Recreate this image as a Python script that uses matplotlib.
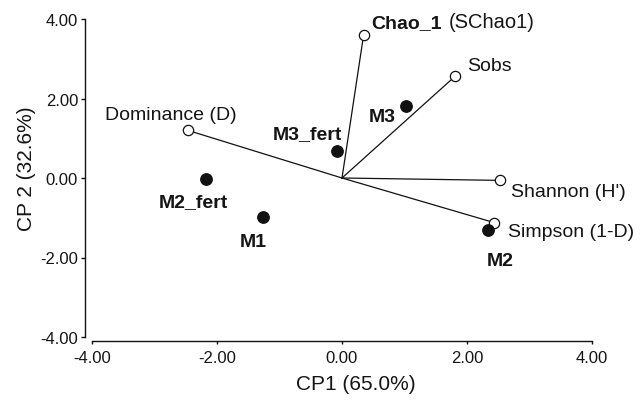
import matplotlib
matplotlib.use("Agg")
import matplotlib.pyplot as plt

plt.rcParams['font.family'] = ['Liberation Sans', 'DejaVu Sans']
plt.rcParams['axes.unicode_minus'] = False

# Sample scores (filled points)
samples = ["M3", "M3_fert", "M2_fert", "M1", "M2"]
sample_x = [1.03, -0.085, -2.18, -1.27, 2.34]
sample_y = [1.82, 0.69, -0.03, -0.99, -1.30]

# Variable loadings (vectors, open circles)
variables = ["Sobs", "Dominance (D)", "Shannon (H')", "Simpson (1-D)"]
var_x = [1.81, -2.47, 2.53, 2.43]
var_y = [2.56, 1.20, -0.06, -1.12]
chao_name_bold = "Chao_1"
chao_name_rest = "(SChao1)"
chao_x = 0.347
chao_y = 3.61

ticks = [-4.0, -2.0, 0.0, 2.0, 4.0]
xlabel = "CP1 (65.0%)"
ylabel = "CP 2 (32.6%)"

# label layout (offsets in points, alignment)
sample_label_style = {
    "M3": ((-7.6, -10.8), "right"),
    "M3_fert": ((-21.0, 9.1), "center"),
    "M2_fert": ((-9.1, -19.4), "center"),
    "M1": ((-6.8, -20.4), "center"),
    "M2": ((8.6, -25.7), "center"),
}
var_label_style = {
    "Sobs": ((8.6, 4.5), "left"),
    "Dominance (D)": ((-12.2, 8.4), "center"),
    "Shannon (H')": ((7.9, -11.5), "left"),
    "Simpson (1-D)": ((10.3, -9.6), "left"),
}

txt_color = "#151515"
fig = plt.figure(figsize=(6.44, 4.02), dpi=100)
ax = fig.add_axes([92/644, 64/402, 500/644, 318/402])
ax.set_xlim(-4, 4)
ax.set_ylim(-4, 4)

# vectors
all_vx = var_x + [chao_x]
all_vy = var_y + [chao_y]
for vx, vy in zip(all_vx, all_vy):
    ax.plot([0, vx], [0, vy], color="#111111", lw=0.9, zorder=2)
ax.plot(all_vx, all_vy, linestyle="none", marker="o", markersize=7.4,
        markerfacecolor="white", markeredgecolor="#111111", markeredgewidth=0.9, zorder=3)

# samples
ax.plot(sample_x, sample_y, linestyle="none", marker="o", markersize=8.2,
        markerfacecolor="#111111", markeredgecolor="#111111", zorder=4)

for name, sx, sy in zip(samples, sample_x, sample_y):
    off, ha = sample_label_style[name]
    ax.annotate(name, (sx, sy), xytext=off, textcoords="offset points",
                ha=ha, va="baseline", fontsize=14, fontweight="bold", color=txt_color)

for name, vx, vy in zip(variables, var_x, var_y):
    off, ha = var_label_style[name]
    ax.annotate(name, (vx, vy), xytext=off, textcoords="offset points",
                ha=ha, va="baseline", fontsize=14, color=txt_color)

t1 = ax.annotate(chao_name_bold, (chao_x, chao_y), xytext=(5.8, 2.4),
                 textcoords="offset points", ha="left", va="bottom",
                 fontsize=14, fontweight="bold", color=txt_color)
ax.annotate(chao_name_rest, xy=(1, 0), xycoords=t1, xytext=(4.5, 0),
            textcoords="offset points", ha="left", va="bottom",
            fontsize=14.5, color=txt_color)

# axes styling
for s in ["top", "right"]:
    ax.spines[s].set_visible(False)
ax.spines["left"].set_position(("outward", 5))
ax.spines["bottom"].set_position(("outward", 3))
ax.spines["left"].set_bounds(-4, 4)
ax.spines["bottom"].set_bounds(-4, 4)
for s in ["left", "bottom"]:
    ax.spines[s].set_linewidth(1.0)
    ax.spines[s].set_color("#111111")

ax.set_xticks(ticks)
ax.set_yticks(ticks)
ax.set_xticklabels([f"{t:.2f}" for t in ticks])
ax.set_yticklabels([f"{t:.2f}" for t in ticks])
ax.tick_params(axis="x", direction="out", length=1.8, width=1.0, pad=4.3,
               labelsize=12, colors="#111111")
ax.tick_params(axis="y", direction="out", length=3, width=1.0, pad=2,
               labelsize=12, colors="#111111")
for lab in ax.get_xticklabels() + ax.get_yticklabels():
    lab.set_color(txt_color)

ax.set_xlabel(xlabel, fontsize=15, color=txt_color)
ax.set_ylabel(ylabel, fontsize=15, color=txt_color)
ax.xaxis.set_label_coords(0.528, -0.117)
ax.yaxis.set_label_coords(-0.112, 0.531)

fig.savefig("out.png", dpi=100)
